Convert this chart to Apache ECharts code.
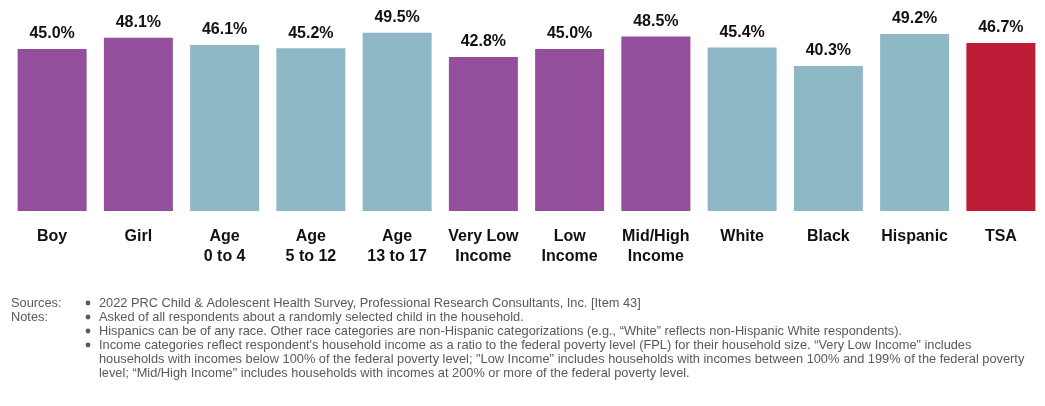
<!DOCTYPE html>
<html>
<head>
<meta charset="utf-8">
<script src="https://cdn.jsdelivr.net/npm/echarts@6/dist/echarts.min.js"></script>
<style>
  html, body { margin: 0; padding: 0; background: #fff; }
  #chart { width: 1045px; height: 406px; }
</style>
</head>
<body>
<div id="chart"></div>
<script>
// Share of children, by demographic group
const categories = ['Boy', 'Girl', 'Age\n0 to 4', 'Age\n5 to 12', 'Age\n13 to 17',
  'Very Low\nIncome', 'Low\nIncome', 'Mid/High\nIncome', 'White', 'Black', 'Hispanic', 'TSA'];
const values = [45.0, 48.1, 46.1, 45.2, 49.5, 42.8, 45.0, 48.5, 45.4, 40.3, 49.2, 46.7];
const groups = ['sex', 'sex', 'age', 'age', 'age', 'income', 'income', 'income', 'race', 'race', 'race', 'total'];

const groupColors = { sex: '#934F9C', income: '#934F9C', age: '#8FB8C6', race: '#8FB8C6', total: '#BE1D38' };

const noteLabels = ['Sources:', 'Notes:'];
const noteLines = [
  { bullet: true, text: '2022 PRC Child & Adolescent Health Survey, Professional Research Consultants, Inc. [Item 43]' },
  { bullet: true, text: 'Asked of all respondents about a randomly selected child in the household.' },
  { bullet: true, text: 'Hispanics can be of any race. Other race categories are non-Hispanic categorizations (e.g., \u201cWhite\u201d reflects non-Hispanic White respondents).' },
  { bullet: true, text: 'Income categories reflect respondent\'s household income as a ratio to the federal poverty level (FPL) for their household size. \u201cVery Low Income\u201d includes' },
  { bullet: false, text: 'households with incomes below 100% of the federal poverty level; "Low Income" includes households with incomes between 100% and 199% of the federal poverty' },
  { bullet: false, text: 'level; \u201cMid/High Income" includes households with incomes at 200% or more of the federal poverty level.' }
];

const fontFamily = '"Liberation Sans", Arial, sans-serif';
const noteColor = '#595959';

// footnote block, one text element per line, vertically centred on each row
const graphics = [];
const noteMid = 303;
const noteStep = 14;
noteLabels.forEach((t, i) => {
  graphics.push({ type: 'text', x: 11, y: noteMid + i * noteStep,
    style: { text: t, fill: noteColor, font: '12.8px ' + fontFamily, verticalAlign: 'middle' } });
});
noteLines.forEach((ln, i) => {
  if (ln.bullet) {
    graphics.push({ type: 'circle', shape: { cx: 88, cy: noteMid + i * noteStep, r: 2.4 },
      style: { fill: noteColor } });
  }
  graphics.push({ type: 'text', x: 99, y: noteMid + i * noteStep,
    style: { text: ln.text, fill: noteColor, font: '12.8px ' + fontFamily, verticalAlign: 'middle' } });
});

const chart = echarts.init(document.getElementById('chart'), null, { renderer: 'canvas' });
chart.setOption({
  animation: false,
  grid: { left: 9, right: 1, top: 31, bottom: 195, containLabel: false },
  xAxis: {
    type: 'category',
    data: categories,
    axisLine: { show: false },
    axisTick: { show: false },
    axisLabel: {
      interval: 0,
      margin: 16,
      color: '#111',
      fontFamily: fontFamily,
      fontWeight: 'bold',
      fontSize: 16,
      lineHeight: 20,
      verticalAlign: 'top'
    }
  },
  yAxis: {
    type: 'value',
    min: 0,
    max: 50,
    show: false,
    splitLine: { show: false }
  },
  series: [{
    type: 'bar',
    barWidth: 69,
    data: values.map((v, i) => ({ value: v, itemStyle: { color: groupColors[groups[i]] } })),
    label: {
      show: true,
      position: 'top',
      distance: 7,
      formatter: p => p.value.toFixed(1) + '%',
      color: '#111',
      fontFamily: fontFamily,
      fontWeight: 'bold',
      fontSize: 16
    }
  }],
  graphic: graphics
});
</script>
</body>
</html>
